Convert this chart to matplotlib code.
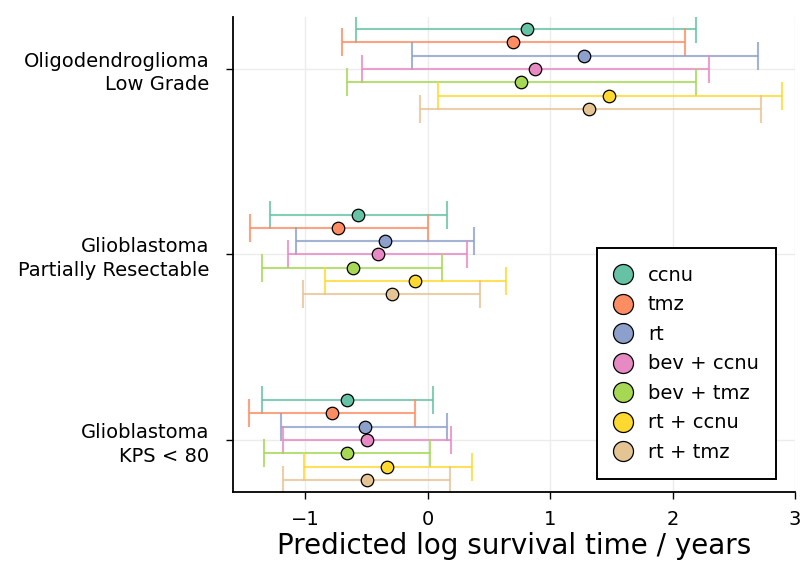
import numpy as np
import matplotlib.pyplot as plt

treatments = ['ccnu', 'tmz', 'rt', 'bev + ccnu', 'bev + tmz', 'rt + ccnu', 'rt + tmz']
groups = ['Oligodendroglioma\nLow Grade', 'Glioblastoma\nPartially Resectable', 'Glioblastoma\nKPS < 80']
colors = ['#66c2a5', '#fc8d62', '#8da0cb', '#e78ac3', '#a6d854', '#ffd92f', '#e5c494']

# rows: treatments, columns: groups
est = [[0.81, -0.57, -0.66],
       [0.70, -0.73, -0.78],
       [1.28, -0.35, -0.51],
       [0.88, -0.41, -0.50],
       [0.76, -0.61, -0.66],
       [1.48, -0.10, -0.33],
       [1.32, -0.29, -0.50]]
lower = [[-0.59, -1.29, -1.35],
         [-0.70, -1.45, -1.46],
         [-0.13, -1.08, -1.20],
         [-0.54, -1.14, -1.18],
         [-0.66, -1.35, -1.34],
         [0.08, -0.84, -1.01],
         [-0.06, -1.02, -1.18]]
upper = [[2.19, 0.16, 0.04],
         [2.10, 0.00, -0.10],
         [2.70, 0.38, 0.16],
         [2.30, 0.32, 0.19],
         [2.19, 0.12, 0.02],
         [2.89, 0.64, 0.36],
         [2.72, 0.43, 0.18]]

group_y = np.array([3, 2, 1])
step = 0.0717

fig = plt.figure(figsize=(8.01, 5.62), dpi=100)
ax = fig.add_axes([0.291, 0.1246, 0.7015, 0.8452])

for i, name in enumerate(treatments):
    y = group_y + (3 - i) * step
    m = np.array(est[i])
    lo = np.array(lower[i])
    hi = np.array(upper[i])
    ax.errorbar(m, y, xerr=[m - lo, hi - m], fmt='none', ecolor=colors[i],
                elinewidth=1.5, capsize=10, capthick=1.5, alpha=0.8, zorder=2)
    ax.plot(m, y, 'o', color=colors[i], markeredgecolor='black', markeredgewidth=0.9,
            markersize=9, zorder=3, linestyle='none', label=name)

ax.set_xlim(-1.59, 3.0)
ax.set_ylim(0.72, 3.28)
ax.set_xticks([-1, 0, 1, 2, 3])
ax.set_xticklabels(['\u22121', '0', '1', '2', '3'])
ax.set_yticks(group_y)
ax.set_yticklabels(groups, ha='right', linespacing=1.3)
ax.tick_params(axis='x', direction='out', length=5, labelsize=14, width=1, pad=8)
ax.tick_params(axis='y', direction='out', length=5, labelsize=14, width=1, pad=12)
ax.grid(True, color='#ececec', linewidth=1.0, zorder=0)
ax.set_axisbelow(True)
for s in ['top', 'right']:
    ax.spines[s].set_visible(False)
for s in ['left', 'bottom']:
    ax.spines[s].set_linewidth(1.3)

ax.set_xlabel('Predicted log survival time / years', fontsize=20, labelpad=2)

leg = ax.legend(loc='lower right', bbox_to_anchor=(0.984, 0.006), fontsize=14,
                markerscale=1.6, handletextpad=0.9, labelspacing=0.54,
                borderpad=0.9, handlelength=0.8, fancybox=False, framealpha=1)
leg.get_frame().set_edgecolor('black')
leg.get_frame().set_linewidth(1.4)

fig.savefig('out.png', dpi=100)
